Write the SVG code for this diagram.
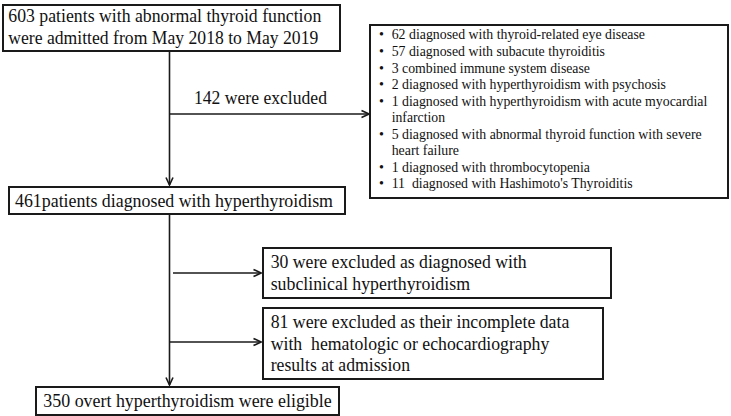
<svg xmlns="http://www.w3.org/2000/svg" width="731" height="416" viewBox="0 0 731 416">
<style>
.box{fill:#fff;stroke:#1a1a1a;stroke-width:2}
.ln{stroke:#1a1a1a;stroke-width:1.6;fill:none}
text{font-family:"Liberation Serif","Times New Roman",serif;fill:#111}
.big{font-size:19px}
.mid{font-size:18px}
.sm{font-size:14px}
</style>
<defs>
<marker id="ah" markerWidth="10" markerHeight="10" refX="9" refY="5" orient="auto" markerUnits="userSpaceOnUse">
<path d="M1.5,1.5 L9,5 L1.5,8.5" fill="none" stroke="#1a1a1a" stroke-width="1.6"/>
</marker>
</defs>
<g id="connectors">
<line class="ln" x1="169.5" y1="51" x2="169.5" y2="185" marker-end="url(#ah)"/>
<line class="ln" x1="169.5" y1="114" x2="369" y2="114" marker-end="url(#ah)"/>
<line class="ln" x1="169.5" y1="213" x2="169.5" y2="385" marker-end="url(#ah)"/>
<line class="ln" x1="173" y1="273" x2="261" y2="273" marker-end="url(#ah)"/>
<line class="ln" x1="169.5" y1="342" x2="261" y2="342" marker-end="url(#ah)"/>
<text class="mid" x="194" y="104" textLength="133" lengthAdjust="spacingAndGlyphs">142 were excluded</text>
</g>
<g id="n1">
<rect class="box" x="3" y="5" width="337" height="46"/>
<text class="big" x="8.3" y="22" textLength="313" lengthAdjust="spacingAndGlyphs">603 patients with abnormal thyroid function</text>
<text class="big" x="8.3" y="44" textLength="310" lengthAdjust="spacingAndGlyphs">were admitted from May 2018 to May 2019</text>
</g>
<g id="n2">
<rect class="box" x="370" y="25" width="358" height="173"/>
<g class="sm">
<text x="379" y="39">•</text><text x="391.7" y="39" textLength="253.3" lengthAdjust="spacingAndGlyphs">62 diagnosed with thyroid-related eye disease</text>
<text x="379" y="56">•</text><text x="391.7" y="56" textLength="213.3" lengthAdjust="spacingAndGlyphs">57 diagnosed with subacute thyroiditis</text>
<text x="379" y="72.5">•</text><text x="391.7" y="72.5" textLength="198.3" lengthAdjust="spacingAndGlyphs">3 combined immune system disease</text>
<text x="379" y="89">•</text><text x="391.7" y="89" textLength="274.3" lengthAdjust="spacingAndGlyphs">2 diagnosed with hyperthyroidism with psychosis</text>
<text x="379" y="105.5">•</text><text x="391.7" y="105.5" textLength="315.6" lengthAdjust="spacingAndGlyphs">1 diagnosed with hyperthyroidism with acute myocardial</text>
<text x="391.7" y="122" textLength="53.3" lengthAdjust="spacingAndGlyphs">infarction</text>
<text x="379" y="138.5">•</text><text x="391.7" y="138.5" textLength="310" lengthAdjust="spacingAndGlyphs">5 diagnosed with abnormal thyroid function with severe</text>
<text x="391.7" y="155" textLength="67.3" lengthAdjust="spacingAndGlyphs">heart failure</text>
<text x="379" y="171.5">•</text><text x="391.7" y="171.5" textLength="198.3" lengthAdjust="spacingAndGlyphs">1 diagnosed with thrombocytopenia</text>
<text x="379" y="188">•</text><text x="391.7" y="188" xml:space="preserve" textLength="241" lengthAdjust="spacingAndGlyphs">11  diagnosed with Hashimoto's Thyroiditis</text>
</g>
</g>
<g id="n3">
<rect class="box" x="9" y="187" width="336" height="27"/>
<text class="big" x="15" y="207" textLength="318" lengthAdjust="spacingAndGlyphs">461patients diagnosed with hyperthyroidism</text>
</g>
<g id="n4">
<rect class="box" x="263" y="248" width="348" height="50"/>
<text class="mid" x="270.7" y="268" textLength="256" lengthAdjust="spacingAndGlyphs">30 were excluded as diagnosed with</text>
<text class="mid" x="270.7" y="290" textLength="199.3" lengthAdjust="spacingAndGlyphs">subclinical hyperthyroidism</text>
</g>
<g id="n5">
<rect class="box" x="263" y="308" width="340" height="71"/>
<text class="mid" x="270.7" y="328" textLength="298.6" lengthAdjust="spacingAndGlyphs">81 were excluded as their incomplete data</text>
<text class="mid" x="270.7" y="350" xml:space="preserve" textLength="278.6" lengthAdjust="spacingAndGlyphs">with  hematologic or echocardiography</text>
<text class="mid" x="270.7" y="371" textLength="139.3" lengthAdjust="spacingAndGlyphs">results at admission</text>
</g>
<g id="n6">
<rect class="box" x="36" y="387" width="303" height="28"/>
<text class="big" x="43.3" y="407" textLength="288.4" lengthAdjust="spacingAndGlyphs">350 overt hyperthyroidism were eligible</text>
</g>
</svg>
